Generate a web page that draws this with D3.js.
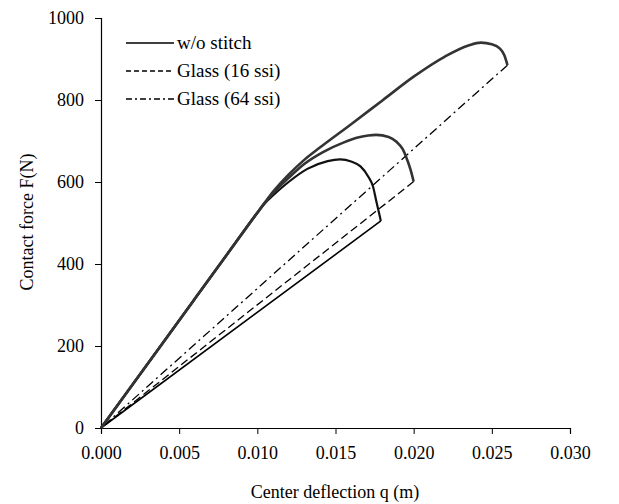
<!DOCTYPE html>
<html>
<head>
<meta charset="utf-8">
<script src="https://cdn.jsdelivr.net/npm/d3@7"></script>
<style>
  html, body { margin: 0; padding: 0; background: #fff; }
  svg { display: block; }
  text { font-family: "Liberation Serif", "Times New Roman", serif; fill: #000; }
</style>
</head>
<body>
<svg id="chart" width="619" height="504"></svg>
<script>
// ---- data (center deflection q [m], contact force F [N]) ----
const xTicks = [0, 0.005, 0.010, 0.015, 0.020, 0.025, 0.030];
const yTicks = [0, 200, 400, 600, 800, 1000];

const seriesNames = ["w/o stitch", "Glass (16 ssi)", "Glass (64 ssi)"];

// loading branches
const loadWO = [[0,0],[0.002,105],[0.004,210],[0.006,315],[0.008,420],[0.010,525],[0.0105,549],[0.011,567],[0.012,600],[0.0132,632],[0.0145,651],[0.0153,655],[0.0160,650],[0.0166,638],[0.0171,613],[0.0174,589],[0.0176,555],[0.0178,522],[0.0179,505]];
const loadG16 = [[0,0],[0.002,105],[0.004,210],[0.006,315],[0.008,420],[0.010,525],[0.0105,550],[0.011,572],[0.012,610],[0.013,644],[0.0142,673],[0.0155,696],[0.0165,709],[0.0176,715],[0.0184,710],[0.0189,698],[0.0193,680],[0.0195,663],[0.0198,630],[0.0200,601]];
const loadG64 = [[0,0],[0.002,105],[0.004,210],[0.006,315],[0.008,420],[0.010,525],[0.0105,551],[0.011,576],[0.012,618],[0.013,654],[0.014,684],[0.016,741],[0.018,799],[0.020,857],[0.022,906],[0.0235,933],[0.0243,940],[0.0250,936],[0.0255,926],[0.0258,909],[0.0260,885]];

// unloading branches (straight back to origin)
const unloadWO = [[0.0179,505],[0,0]];
const unloadG16 = [[0.0200,601],[0,0]];
const unloadG64 = [[0.0260,885],[0,0]];

// ---- layout ----
const svg = d3.select("#chart");
const x = d3.scaleLinear().domain([0, 0.030]).range([101, 570]);
const y = d3.scaleLinear().domain([0, 1000]).range([428, 18]);

// axes
const xAxis = d3.axisBottom(x).tickValues(xTicks).tickFormat(d3.format(".3f")).tickSize(6).tickPadding(12);
const yAxis = d3.axisLeft(y).tickValues(yTicks).tickFormat(d3.format("d")).tickSize(6).tickPadding(11);

const gx = svg.append("g").attr("transform", `translate(0,${y(0)})`).call(xAxis);
const gy = svg.append("g").attr("transform", `translate(${x(0)},0)`).call(yAxis);
[gx, gy].forEach(g => {
  g.select(".domain").attr("stroke", "#000").attr("stroke-width", 1.2);
  g.selectAll(".tick line").attr("stroke", "#000").attr("stroke-width", 1);
  g.selectAll(".tick text").attr("font-size", 18).attr("font-family", "Liberation Serif").attr("fill", "#000");
});

// axis titles
svg.append("text").attr("x", 335).attr("y", 498).attr("text-anchor", "middle")
  .attr("font-size", 18).text("Center deflection q (m)");
svg.append("text").attr("transform", "translate(33,222) rotate(-90)").attr("text-anchor", "middle")
  .attr("font-size", 18).text("Contact force F(N)");

// lines
const line = d3.line().x(d => x(d[0])).y(d => y(d[1])).curve(d3.curveMonotoneX);
const straight = d3.line().x(d => x(d[0])).y(d => y(d[1]));

const styles = [
  { dash: null, width: 1.6 },
  { dash: "8,4", width: 1.3 },
  { dash: "9,4,2,4", width: 1.3 }
];

const unloads = [unloadWO, unloadG16, unloadG64];
unloads.forEach((u, i) => {
  svg.append("path").attr("d", straight(u)).attr("fill", "none")
    .attr("stroke", "#000").attr("stroke-width", styles[i].width)
    .attr("stroke-dasharray", styles[i].dash);
});

const loads = [loadWO, loadG16, loadG64];
loads.forEach((l, i) => {
  svg.append("path").attr("d", line(l)).attr("fill", "none")
    .attr("stroke", i === 0 ? "#111" : "#333").attr("stroke-width", i === 0 ? 2.2 : 2.6)
    .attr("stroke-linejoin", "round");
});

// legend
const legendY = [43, 71, 99];
seriesNames.forEach((name, i) => {
  svg.append("line").attr("x1", 126).attr("x2", 174).attr("y1", legendY[i]).attr("y2", legendY[i])
    .attr("stroke", "#000").attr("stroke-width", 1.3)
    .attr("stroke-dasharray", i === 0 ? null : (i === 1 ? "5,3" : "6,3,2,3"));
  svg.append("text").attr("x", 177).attr("y", legendY[i] + 6).attr("font-size", 19).text(name);
});
</script>
</body>
</html>
